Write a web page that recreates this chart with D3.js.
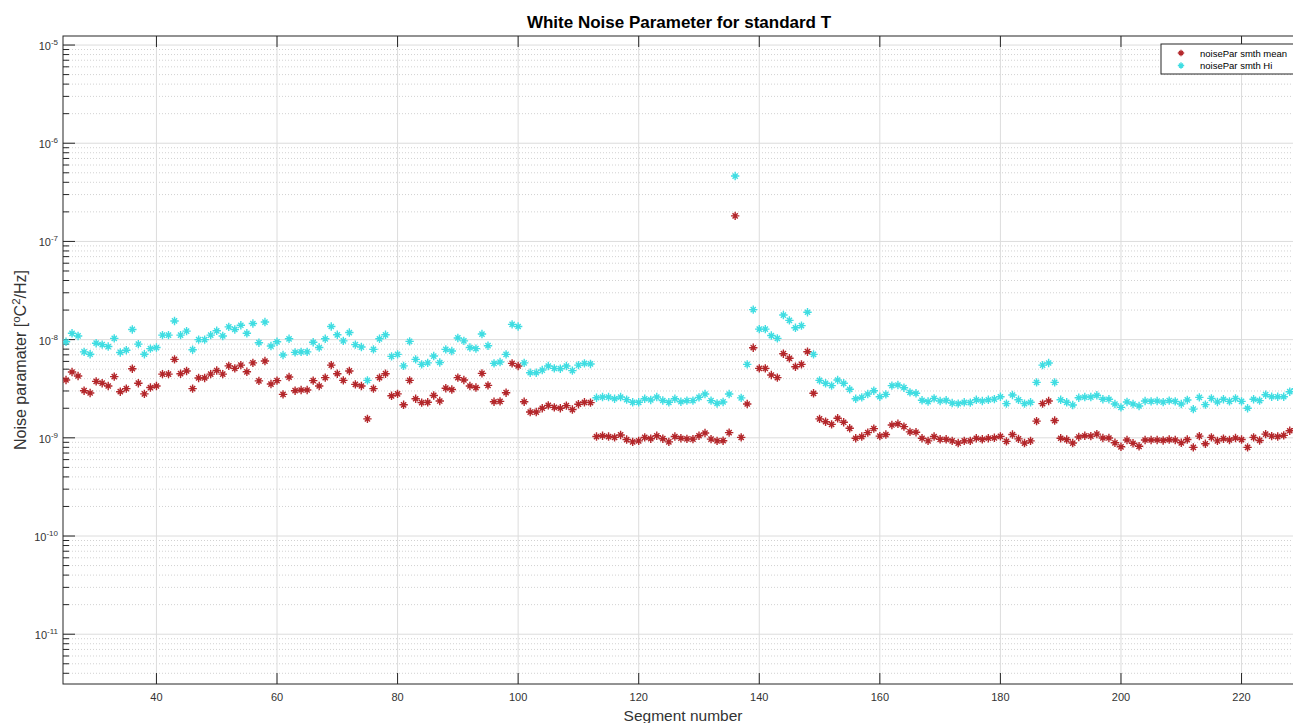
<!DOCTYPE html>
<html>
<head>
<meta charset="utf-8">
<script src="https://cdnjs.cloudflare.com/ajax/libs/d3/7.8.5/d3.min.js" charset="utf-8"></script>
<style>
	body { margin: 0; background: #fff; overflow: hidden; }
	svg { font-family: "Liberation Sans", Arial, Helvetica, sans-serif; }
</style>
</head>
<body>
<div id="chart"></div>
<script>

/////// Data (values in units of 1e-9 °C²/Hz) ///////

var firstSegment = 25;

// noisePar smth mean, segments 25..229
var meanNano = [3.88,4.68,4.26,3.02,2.86,3.76,3.6,3.37,4.2,2.95,
	3.17,5.06,3.6,2.8,3.25,3.37,4.45,4.45,6.3,4.5,
	4.8,3.17,4.07,4.07,4.45,4.85,4.45,5.4,5.1,5.5,
	4.7,5.8,3.8,6.05,3.53,3.82,2.77,4.16,3.02,3.07,
	3.07,3.82,3.37,4.1,5.5,4.5,3.85,4.8,3.5,3.37,
	1.56,3.17,4.1,4.5,2.68,2.8,2.17,3.85,2.5,2.28,
	2.3,2.7,2.37,3.2,3.1,4.1,3.88,3.37,3.25,4.53,
	3.42,2.33,2.35,2.88,5.73,5.39,2.33,1.83,1.83,2.0,
	2.14,2.04,2.0,2.13,1.94,2.2,2.3,2.28,1.03,1.05,
	1.03,1.01,1.07,0.96,0.91,0.93,1.01,0.98,1.05,0.98,
	0.91,1.03,0.99,0.975,0.97,1.05,1.12,0.97,0.93,0.935,
	1.13,182,1.01,2.21,8.27,5.1,5.1,4.36,4.1,7.19,
	6.45,5.3,5.6,7.53,2.84,1.56,1.46,1.37,1.58,1.44,
	1.25,0.99,1.03,1.13,1.24,1.04,1.08,1.35,1.39,1.3,
	1.15,1.14,0.99,0.93,1.03,0.966,0.966,0.93,0.885,0.93,
	0.93,0.99,0.966,0.99,1.0,1.035,0.92,1.08,0.975,0.885,
	0.93,1.48,2.23,2.37,1.5,0.99,0.96,0.885,1.02,1.05,
	1.04,1.09,0.996,0.996,0.89,0.81,0.95,0.88,0.82,0.95,
	0.95,0.95,0.94,0.96,0.95,0.89,0.96,0.8,1.04,0.87,
	1.01,0.93,0.98,0.95,0.996,0.96,0.8,1.01,0.94,1.09,
	1.04,1.03,1.06,1.18,1.24];

// noisePar smth Hi, segments 25..229
var hiNano = [9.5,11.6,10.9,7.5,7.1,9.2,8.9,8.5,10.3,7.4,
	7.8,12.7,9.0,7.1,8.1,8.3,11.1,11.1,15.5,11.1,
	12.2,7.9,10.0,10.0,11.1,12.3,10.9,13.5,12.7,14.0,
	11.6,14.6,9.3,15.1,8.6,9.5,6.97,10.2,7.42,7.5,
	7.5,9.4,8.3,10.2,13.6,11.2,9.7,11.8,8.9,8.4,
	3.85,7.95,10.2,11.2,6.75,7.07,5.4,9.6,6.3,5.6,
	5.8,6.8,5.85,7.95,7.65,10.4,9.7,8.3,8.1,11.4,
	8.67,5.73,5.91,7.08,14.3,13.6,5.8,4.6,4.6,4.9,
	5.38,5.1,5.06,5.38,4.83,5.5,5.73,5.65,2.56,2.6,
	2.6,2.5,2.6,2.45,2.3,2.3,2.5,2.43,2.6,2.4,
	2.3,2.5,2.33,2.39,2.39,2.58,2.79,2.39,2.24,2.32,
	2.79,463,2.55,5.6,20.2,12.8,12.8,11.0,10.3,17.8,
	15.7,13.2,13.9,19.0,7.08,3.85,3.59,3.4,3.88,3.59,
	3.12,2.5,2.58,2.79,3.02,2.62,2.77,3.4,3.45,3.24,
	2.9,2.84,2.41,2.34,2.52,2.37,2.41,2.26,2.23,2.3,
	2.28,2.44,2.37,2.44,2.48,2.62,2.23,2.73,2.44,2.23,
	2.3,3.67,5.5,5.78,3.67,2.44,2.3,2.16,2.56,2.6,
	2.6,2.71,2.47,2.47,2.21,2.04,2.32,2.21,2.11,2.37,
	2.35,2.37,2.31,2.39,2.35,2.21,2.43,1.96,2.58,2.18,
	2.52,2.32,2.47,2.35,2.52,2.35,2.0,2.47,2.39,2.75,
	2.62,2.62,2.62,2.95,3.16];

var xTicks = [40, 60, 80, 100, 120, 140, 160, 180, 200, 220];
var yDecades = [-11, -10, -9, -8, -7, -6, -5];
var seriesNames = ["noisePar smth mean", "noisePar smth Hi"];
var seriesColors = ["#b3262a", "#3fdde2"];

/////// SVG container ///////

var W = 1293, H = 723;
var plot = { left: 63, top: 36, right: 1297, bottom: 684 };
var axisColor = "#262626";

var svg = d3.select("#chart").append("svg")
	.attr("width", W)
	.attr("height", H);

var x = d3.scaleLinear()
	.domain([24.5, 229.2])
	.range([plot.left, plot.right]);

var y = d3.scaleLog()
	.domain([Math.pow(10, -11.507), Math.pow(10, -4.908)])
	.range([plot.bottom, plot.top]);

svg.append("defs").append("clipPath")
	.attr("id", "plotClip")
	.append("rect")
	.attr("x", plot.left)
	.attr("y", plot.top)
	.attr("width", plot.right - plot.left)
	.attr("height", plot.bottom - plot.top);

/////// Grid ///////

var minorVals = [];
yDecades.concat([-12]).forEach(function(d) {
	for (var k = 2; k <= 9; k++) {
		var v = k * Math.pow(10, d);
		if (v > y.domain()[0] && v < y.domain()[1]) minorVals.push(v);
	}
});

var grid = svg.append("g").attr("clip-path", "url(#plotClip)");

grid.selectAll(".minor")
	.data(minorVals)
	.enter().append("line")
	.attr("x1", plot.left).attr("x2", plot.right)
	.attr("y1", function(d) { return y(d); })
	.attr("y2", function(d) { return y(d); })
	.attr("stroke", "#d2d2d2")
	.attr("stroke-width", 1)
	.attr("stroke-dasharray", "1,2");

grid.selectAll(".majorY")
	.data(yDecades)
	.enter().append("line")
	.attr("x1", plot.left).attr("x2", plot.right)
	.attr("y1", function(d) { return y(Math.pow(10, d)); })
	.attr("y2", function(d) { return y(Math.pow(10, d)); })
	.attr("stroke", "#dcdcdc")
	.attr("stroke-width", 1);

grid.selectAll(".majorX")
	.data(xTicks)
	.enter().append("line")
	.attr("x1", function(d) { return x(d); })
	.attr("x2", function(d) { return x(d); })
	.attr("y1", plot.top).attr("y2", plot.bottom)
	.attr("stroke", "#dcdcdc")
	.attr("stroke-width", 1);

/////// Axes box and ticks ///////

svg.append("rect")
	.attr("x", plot.left)
	.attr("y", plot.top)
	.attr("width", plot.right - plot.left)
	.attr("height", plot.bottom - plot.top)
	.attr("fill", "none")
	.attr("stroke", axisColor)
	.attr("stroke-width", 1);

// x ticks (bottom, pointing up) and top (pointing down)
xTicks.forEach(function(t) {
	svg.append("line")
		.attr("x1", x(t)).attr("x2", x(t))
		.attr("y1", plot.bottom).attr("y2", plot.bottom - 11)
		.attr("stroke", axisColor);
	svg.append("line")
		.attr("x1", x(t)).attr("x2", x(t))
		.attr("y1", plot.top).attr("y2", plot.top + 11)
		.attr("stroke", axisColor);
	svg.append("text")
		.attr("x", x(t))
		.attr("y", 701)
		.attr("text-anchor", "middle")
		.attr("font-size", 11)
		.attr("fill", "#333")
		.text(t);
});

// y ticks
yDecades.forEach(function(d) {
	svg.append("line")
		.attr("x1", plot.left).attr("x2", plot.left + 12)
		.attr("y1", y(Math.pow(10, d))).attr("y2", y(Math.pow(10, d)))
		.attr("stroke", axisColor);
	var lbl = svg.append("text")
		.attr("x", 58)
		.attr("y", y(Math.pow(10, d)) + 5)
		.attr("text-anchor", "end")
		.attr("font-size", 11)
		.attr("fill", "#333");
	lbl.append("tspan").text("10");
	lbl.append("tspan")
		.attr("dy", -5)
		.attr("font-size", 8)
		.text(String(d));
});
minorVals.forEach(function(v) {
	svg.append("line")
		.attr("x1", plot.left).attr("x2", plot.left + 6)
		.attr("y1", y(v)).attr("y2", y(v))
		.attr("stroke", axisColor);
});

/////// Labels ///////

svg.append("text")
	.attr("x", 679)
	.attr("y", 28)
	.attr("text-anchor", "middle")
	.attr("font-size", 17)
	.attr("font-weight", "bold")
	.attr("fill", "#000")
	.text("White Noise Parameter for standard T");

svg.append("text")
	.attr("x", 683)
	.attr("y", 721)
	.attr("text-anchor", "middle")
	.attr("font-size", 15.5)
	.attr("fill", "#333")
	.text("Segment number");

var yl = svg.append("text")
	.attr("transform", "translate(26,360) rotate(-90)")
	.attr("text-anchor", "middle")
	.attr("font-size", 16)
	.attr("fill", "#333");
yl.append("tspan").text("Noise paramater [");
yl.append("tspan").attr("dy", -6).attr("font-size", 11.5).text("o");
yl.append("tspan").attr("dy", 6).text("C");
yl.append("tspan").attr("dy", -6).attr("font-size", 11.5).text("2");
yl.append("tspan").attr("dy", 6).text("/Hz]");

/////// Markers ///////

function starPath(r) {
	var d = r * 0.62;
	return "M" + (-r) + ",0L" + r + ",0M0," + (-r) + "L0," + r +
		"M" + (-d) + "," + (-d) + "L" + d + "," + d +
		"M" + (-d) + "," + d + "L" + d + "," + (-d);
}

var segments = d3.range(firstSegment, firstSegment + meanNano.length);
var series = [meanNano, hiNano];

var marks = svg.append("g").attr("clip-path", "url(#plotClip)");
series.forEach(function(vals, i) {
	marks.selectAll(".s" + i)
		.data(vals)
		.enter().append("path")
		.attr("class", "s" + i)
		.attr("d", starPath(4.2))
		.attr("transform", function(d, j) {
			return "translate(" + x(segments[j]) + "," + y(d * 1e-9) + ")";
		})
		.attr("fill", "none")
		.attr("stroke", seriesColors[i])
		.attr("stroke-width", 1.4);
});

/////// Legend ///////

var legend = svg.append("g");
legend.append("rect")
	.attr("x", 1161)
	.attr("y", 44)
	.attr("width", 160)
	.attr("height", 30)
	.attr("fill", "#fff")
	.attr("stroke", axisColor)
	.attr("stroke-width", 1);

seriesNames.forEach(function(name, i) {
	var ly = 53 + i * 12.5;
	legend.append("path")
		.attr("d", starPath(3.2))
		.attr("transform", "translate(1181," + ly + ")")
		.attr("fill", "none")
		.attr("stroke", seriesColors[i])
		.attr("stroke-width", 1.3);
	legend.append("text")
		.attr("x", 1200)
		.attr("y", ly + 3.5)
		.attr("font-size", 9.5)
		.attr("fill", "#000")
		.text(name);
});

</script>
</body>
</html>
